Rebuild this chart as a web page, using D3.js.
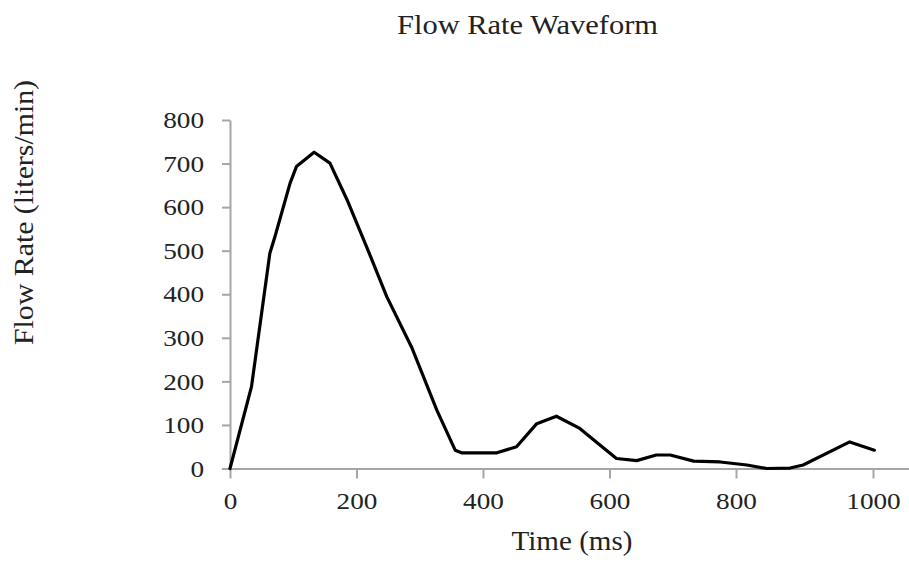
<!DOCTYPE html>
<html>
<head>
<meta charset="utf-8">
<script src="https://cdn.jsdelivr.net/npm/d3@7"></script>
<style>
  html, body { margin: 0; padding: 0; background: #fff; }
  svg { display: block; }
  text { font-family: "Liberation Serif", "Times New Roman", serif; fill: #222; }
</style>
</head>
<body>
<svg id="chart" width="909" height="562"></svg>
<script>
const titleText = "Flow Rate Waveform";
const xLabel = "Time (ms)";
const yLabel = "Flow Rate (liters/min)";

const timeMs = [0, 34, 63, 71, 95, 105, 133, 158, 185, 216, 248, 287, 327, 356, 366, 422, 453, 485, 516, 553, 611, 643, 674, 696, 733, 775, 816, 845, 879, 898, 966, 1002];
const flowRate = [0, 188, 494, 532, 655, 693, 726, 701, 617, 509, 394, 279, 134, 42, 36, 36, 50, 103, 120, 92, 23, 18, 31, 31, 17, 15, 8, 0, 1, 8, 61, 42];

const xTicks = [0, 200, 400, 600, 800, 1000];
const yTicks = [0, 100, 200, 300, 400, 500, 600, 700, 800];

const svg = d3.select("#chart");

const x = d3.scaleLinear().domain([0, 800, 1000, 1053]).range([230, 736, 873, 909]);
const y = d3.scaleLinear().domain([0, 800]).range([468.5, 120]);

const axisColor = "#a6a6a6";
const digitW = 13.6;

// X axis
const gx = svg.append("g").attr("transform", `translate(0,${y(0)})`)
  .call(d3.axisBottom(x).tickValues(xTicks).tickSize(10).tickSizeOuter(0).tickPadding(13).tickFormat(d3.format("d")));
gx.select(".domain").attr("stroke", axisColor).attr("stroke-width", 2);
gx.selectAll(".tick line").attr("stroke", axisColor).attr("stroke-width", 2);
gx.selectAll(".tick text").attr("font-size", 24).attr("fill", "#222")
  .style("font-family", "'Liberation Serif', serif")
  .attr("textLength", d => String(d).length * digitW).attr("lengthAdjust", "spacingAndGlyphs");

// Y axis
const gy = svg.append("g").attr("transform", `translate(${x(0)},0)`)
  .call(d3.axisLeft(y).tickValues(yTicks).tickSize(8).tickSizeOuter(0).tickPadding(18).tickFormat(d3.format("d")));
gy.select(".domain").attr("stroke", axisColor).attr("stroke-width", 2);
gy.selectAll(".tick line").attr("stroke", axisColor).attr("stroke-width", 2);
gy.selectAll(".tick text").attr("font-size", 24).attr("fill", "#222")
  .style("font-family", "'Liberation Serif', serif")
  .attr("textLength", d => String(d).length * digitW).attr("lengthAdjust", "spacingAndGlyphs");

// Line
const line = d3.line().x((d, i) => x(timeMs[i])).y(d => y(d)).curve(d3.curveLinear);
svg.append("path")
  .datum(flowRate)
  .attr("d", line)
  .attr("fill", "none")
  .attr("stroke", "#000")
  .attr("stroke-width", 3.2)
  .attr("stroke-linejoin", "round")
  .attr("stroke-linecap", "round");

// Titles
svg.append("text").attr("x", 527.5).attr("y", 34).attr("text-anchor", "middle")
  .attr("font-size", 27).attr("textLength", 261).attr("lengthAdjust", "spacingAndGlyphs").text(titleText);
svg.append("text").attr("x", 572).attr("y", 550).attr("text-anchor", "middle")
  .attr("font-size", 27).attr("textLength", 121).attr("lengthAdjust", "spacingAndGlyphs").text(xLabel);
svg.append("text").attr("transform", "translate(33,212.5) rotate(-90)").attr("text-anchor", "middle")
  .attr("font-size", 27).attr("textLength", 265).attr("lengthAdjust", "spacingAndGlyphs").text(yLabel);
</script>
</body>
</html>
